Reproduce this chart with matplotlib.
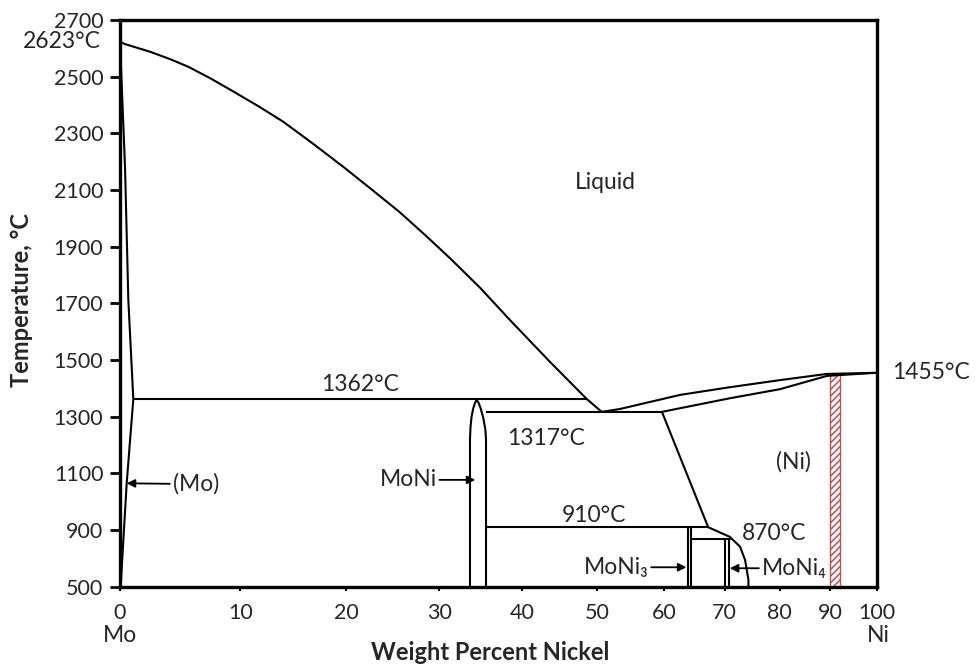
import matplotlib.pyplot as plt
import numpy as np
from matplotlib.patches import Rectangle
from matplotlib.ticker import NullLocator

plt.rcParams["font.family"] = ["Lato", "DejaVu Sans"]
plt.rcParams["hatch.linewidth"] = 1.1

# --- phase boundaries (wt% Ni, deg C) ---
liq_mo_wt = [0, 0.39, 2.37, 3.99, 5.5, 7.34, 9.4, 11.6, 13.9, 16.9, 19.9,
             22.7, 25.6, 28.4, 31.2, 34.8, 38.4, 43.6, 48.6, 50.7]
liq_mo_t = [2623, 2615, 2588, 2562, 2535, 2495, 2447, 2396, 2341, 2259, 2177,
            2100, 2022, 1941, 1860, 1754, 1642, 1493, 1362, 1317]

liq_ni_wt = [50.7, 53.3, 62.6, 70.9, 80.0, 89.3, 100]
liq_ni_t = [1317, 1327, 1377, 1404, 1429, 1451, 1455]

sol_ni_wt = [59.7, 62.6, 70.9, 80.0, 89.3, 100]
sol_ni_t = [1317, 1330, 1365, 1397, 1444, 1455]

solvus_ni_wt = [59.7, 67.2, 70.9, 72.7, 73.6, 74.2, 74.2]
solvus_ni_t = [1317, 910, 876, 830, 720, 555, 500]

mo_solidus_wt = [0, 0.39, 0.65, 1.04]
mo_solidus_t = [2623, 2182, 1711, 1362]
mo_solvus_wt = [1.04, 0.52, 0.05]
mo_solvus_t = [1362, 1065, 500]

moni_wt = [33.56, 33.56, 33.62, 33.75, 33.95, 34.15, 34.36, 34.6, 34.85,
           35.15, 35.4, 35.48, 35.48]
moni_t = [500, 1220, 1262, 1300, 1330, 1348, 1360, 1348, 1328, 1295, 1255,
          1220, 500]

# horizontal reactions: (start wt%, end wt%, temperature)
isotherms = [
    (1.04, 48.6, 1362),
    (35.48, 59.7, 1317),
    (35.48, 67.2, 910),
    (64.4, 71.1, 870),
]

# compound boundaries: (wt%, top temperature)
moni3_wt = [63.8, 64.4]
moni3_top = 910
moni4_wt = [70.1, 70.8]
moni4_top = 870

# hatched alloy range
alloy_wt = (90, 92)
alloy_t = (500, 1450)

xticks = list(range(0, 101, 10))
yticks = [500, 900, 1100, 1300, 1500, 1700, 1900, 2100, 2300, 2500, 2700]

R = 0.587  # composition axis spaced roughly by atomic fraction


def wt_to_axis(w):
    w = np.asarray(w, dtype=float)
    with np.errstate(divide="ignore", invalid="ignore"):
        return w / (w + R * (100.0 - w))


def axis_to_wt(a):
    a = np.asarray(a, dtype=float)
    with np.errstate(divide="ignore", invalid="ignore"):
        return 100.0 * a * R / (1.0 - a + a * R)


def temp_to_axis(t):
    t = np.asarray(t, dtype=float)
    return np.where(t < 850, 0.75 * (t - 500) / 350, 0.75 + (t - 850) / 200)


def axis_to_temp(u):
    u = np.asarray(u, dtype=float)
    return np.where(u < 0.75, 500 + u * 350 / 0.75, 850 + (u - 0.75) * 200)


W, H = 978, 667
fig = plt.figure(figsize=(W / 100, H / 100), dpi=100)
ax = fig.add_axes([120 / W, 1 - 586.7 / H, 756.7 / W, 566.7 / H])
ax.set_xscale("function", functions=(wt_to_axis, axis_to_wt))
ax.set_yscale("function", functions=(temp_to_axis, axis_to_temp))
ax.set_xlim(0, 100)
ax.set_ylim(500, 2700)

text_color = "#262626"
line_kw = dict(color="black", lw=1.5, solid_capstyle="butt",
               solid_joinstyle="round")

ax.plot(liq_mo_wt, liq_mo_t, **line_kw)
ax.plot(liq_ni_wt, liq_ni_t, **line_kw)
ax.plot(sol_ni_wt, sol_ni_t, **line_kw)
ax.plot(solvus_ni_wt, solvus_ni_t, **line_kw)
ax.plot(mo_solidus_wt, mo_solidus_t, **line_kw)
ax.plot(mo_solvus_wt, mo_solvus_t, **line_kw)
ax.plot(moni_wt, moni_t, **line_kw)
for x0, x1, t in isotherms:
    ax.plot([x0, x1], [t, t], **line_kw)
for w in moni3_wt:
    ax.plot([w, w], [500, moni3_top], **line_kw)
for w in moni4_wt:
    ax.plot([w, w], [500, moni4_top], **line_kw)

ax.add_patch(Rectangle((alloy_wt[0], alloy_t[0]), alloy_wt[1] - alloy_wt[0],
                       alloy_t[1] - alloy_t[0], fill=False, hatch="/////",
                       edgecolor="#c0504d", lw=1.0))

txt = dict(fontsize=16.5, color=text_color)
ax.text(51.2, 2125, "Liquid", ha="center", va="center", **txt)
ax.text(21.4, 1412, "1362°C", ha="center", va="center", **txt)
ax.text(43.1, 1224, "1317°C", ha="center", va="center", **txt)
ax.text(49.6, 953, "910°C", ha="center", va="center", **txt)
ax.text(78.9, 889, "870°C", ha="center", va="center", **txt)
ax.text(82.6, 1141, "(Ni)", ha="center", va="center", **txt)

arrow = dict(arrowstyle="-|>", color="black", lw=1.3, mutation_scale=12,
             shrinkA=0, shrinkB=0)
ax.annotate("(Mo)", xy=(0.52, 1065), xytext=(4.2, 1062), ha="left",
            va="center", arrowprops=arrow, **txt)
ax.annotate("MoNi", xy=(34.2, 1077), xytext=(29.7, 1077), ha="right",
            va="center", arrowprops=arrow, **txt)
ax.annotate("MoNi₃", xy=(63.6, 660), xytext=(57.6, 660), ha="right",
            va="center", arrowprops=arrow, **txt)
ax.annotate("MoNi₄", xy=(70.9, 652), xytext=(76.6, 652), ha="left",
            va="center", arrowprops=arrow, **txt)

ax.annotate("2623°C", xy=(0, 2623), xytext=(-14, 0), textcoords="offset points",
            ha="right", va="center", annotation_clip=False, **txt)
ax.annotate("1455°C", xy=(100, 1455), xytext=(11, 0), textcoords="offset points",
            ha="left", va="center", annotation_clip=False, **txt)

ax.set_xticks(xticks)
ax.set_xticklabels([str(v) for v in xticks])
ax.set_yticks(yticks)
ax.set_yticklabels([str(v) for v in yticks])
ax.xaxis.set_minor_locator(NullLocator())
ax.yaxis.set_minor_locator(NullLocator())
ax.tick_params(axis="y", direction="out", length=7, width=2, pad=5,
               labelsize=15.5, labelcolor=text_color)
ax.tick_params(axis="x", direction="out", length=3, width=1.5, pad=9,
               labelsize=15.5, labelcolor=text_color)
for spine in ax.spines.values():
    spine.set_linewidth(2.4)

fig.text(120 / W, 1 - 636 / H, "Mo", ha="center", va="center", **txt)
fig.text(878 / W, 1 - 636 / H, "Ni", ha="center", va="center", **txt)
fig.text(490 / W, 1 - 653 / H, "Weight Percent Nickel", ha="center",
         va="center", fontsize=17, fontweight="bold", color=text_color)
fig.text(22 / W, 1 - 300 / H, "Temperature, °C", ha="center", va="center",
         rotation=90, fontsize=17, fontweight="bold", color=text_color)

fig.savefig("out.png", dpi=100, facecolor="white")
